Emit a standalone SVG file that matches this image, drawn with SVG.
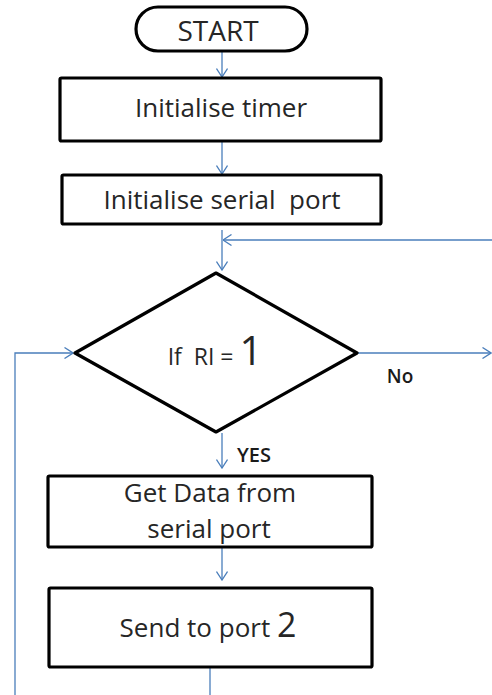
<svg xmlns="http://www.w3.org/2000/svg" width="492" height="695" viewBox="0 0 492 695">
<style>
.box{fill:#fff;stroke:#000;stroke-width:3.2;stroke-linejoin:round}
.t{font-family:"Open Sans","Liberation Sans",sans-serif;fill:#262626;text-anchor:middle}
.lbl{font-family:"Open Sans","Liberation Sans",sans-serif;fill:#1a1a1a;text-anchor:middle;font-weight:600}
.c{fill:none;stroke:#4a7ebb;stroke-width:1.3}
</style>
<defs>
<marker id="ah" viewBox="0 0 10 12" refX="9.5" refY="6" markerWidth="10" markerHeight="12" markerUnits="userSpaceOnUse" orient="auto">
<path d="M1,0.5 L9.5,6 L1,11.5" fill="none" stroke="#4a7ebb" stroke-width="1.3"/>
</marker>
</defs>
<g id="connectors">
<line class="c" x1="222" y1="52" x2="222" y2="77" marker-end="url(#ah)"/>
<line class="c" x1="222" y1="142" x2="222" y2="174" marker-end="url(#ah)"/>
<line class="c" x1="492" y1="240" x2="223" y2="240" marker-end="url(#ah)"/>
<line class="c" x1="222" y1="230" x2="222" y2="270" marker-end="url(#ah)"/>
<line class="c" x1="357" y1="353" x2="491" y2="353" marker-end="url(#ah)"/>
<polyline class="c" points="15,695 15,353 73,353" marker-end="url(#ah)"/>
<line class="c" x1="222" y1="433" x2="222" y2="468" marker-end="url(#ah)"/>
<line class="c" x1="222" y1="532" x2="222" y2="580" marker-end="url(#ah)"/>
<line class="c" x1="210" y1="668" x2="210" y2="695"/>
</g>
<g id="start">
<rect class="box" x="136" y="7" width="171" height="44" rx="22" ry="22"/>
<text class="t" x="218" y="41" font-size="28">START</text>
</g>
<g id="init-timer">
<rect class="box" x="60" y="78" width="321" height="63" rx="1.5"/>
<text class="t" x="221" y="117" font-size="26">Initialise timer</text>
</g>
<g id="init-serial">
<rect class="box" x="62" y="175" width="319" height="49" rx="1.5"/>
<text class="t" x="222" y="209" font-size="26" xml:space="preserve">Initialise serial  port</text>
</g>
<g id="decision">
<polygon class="box" points="216,273 357,353 216,432 75,353"/>
<text class="t" x="215" y="365" font-size="23" xml:space="preserve">If  RI = <tspan font-size="40">1</tspan></text>
</g>
<text class="lbl" x="400" y="383" font-size="19">No</text>
<text class="lbl" x="254" y="462" font-size="20">YES</text>
<g id="get-data">
<rect class="box" x="48" y="476" width="324" height="71" rx="1.5"/>
<text class="t" x="210" y="502" font-size="26">Get Data from</text>
<text class="t" x="209" y="538" font-size="26">serial port</text>
</g>
<g id="send">
<rect class="box" x="49" y="588" width="323" height="79" rx="1.5"/>
<text class="t" x="208" y="637" font-size="26">Send to port <tspan font-size="34">2</tspan></text>
</g>
</svg>
